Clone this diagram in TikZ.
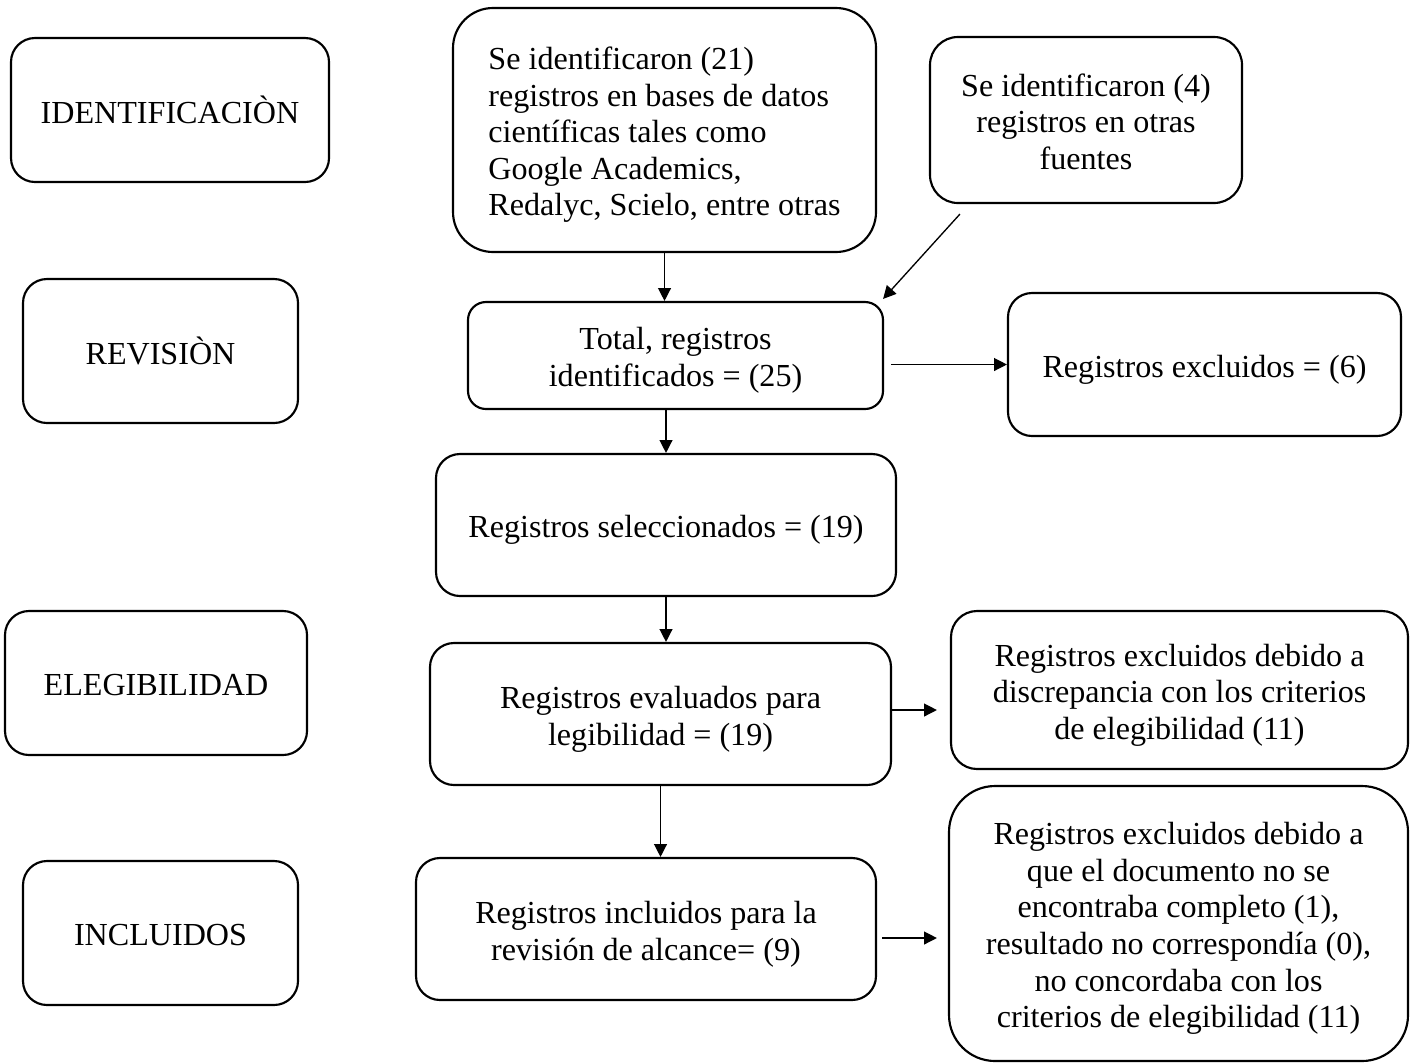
\documentclass[tikz,border=0pt]{standalone}
\usepackage{fontspec}
\setmainfont{Liberation Serif}
\usetikzlibrary{arrows.meta,calc}
\newdimen\pxu
\pxu=0.3738pt
% lower the text block inside its box a little, keeping the box dimensions
\newcommand\lowc[1]{\raisebox{-2pt}[\height][\depth]{\begin{tabular}{@{}c@{}}#1\end{tabular}}}
\newcommand\lowl[1]{\raisebox{-2pt}[\height][\depth]{\begin{tabular}{@{}l@{}}#1\end{tabular}}}
\begin{document}
\begin{tikzpicture}[x=0.3738pt,y=-0.3738pt,
  box/.style={draw,line width=0.8pt,align=center,inner sep=0pt,
    font=\fontsize{12pt}{13.7pt}\selectfont},
  wh/.style 2 args={minimum width=#1*\pxu,minimum height=#2*\pxu},
  rc/.style={rounded corners=#1*\pxu},
  arr/.style={line width=0.5pt,-{Triangle[length=4.8pt,width=4.8pt]}}]
\useasboundingbox (0,0) rectangle (1411,1063);
% stage labels
\node[box,wh={318}{144},rc=24] (ident) at (170,110) {\lowc{IDENTIFICACIÒN}};
\node[box,wh={275}{144},rc=24] (revis) at (160.5,351) {\lowc{REVISIÒN}};
\node[box,wh={302}{144},rc=24] (eleg) at (156,683) {\lowc{ELEGIBILIDAD}};
\node[box,wh={275}{144},rc=24] (inclL) at (160.5,933) {\lowc{INCLUIDOS}};
% flow boxes
\node[box,wh={423}{244},rc=40] (top) at (664.5,130)
  {\lowl{Se identificaron (21)\\registros en bases de datos\\científicas tales como\\Google Academics,\\Redalyc, Scielo, entre otras}};
\node[box,wh={312}{166},rc=28] (se4) at (1086,120)
  {\lowc{Se identificaron (4)\\registros en otras\\fuentes}};
\node[box,wh={415}{107},rc=18] (total) at (675.5,355.5)
  {\lowc{Total, registros\\identificados = (25)}};
\node[box,wh={393}{143},rc=24] (excl) at (1204.5,364.5)
  {\lowc{Registros excluidos = (6)}};
\node[box,wh={460}{142},rc=24] (sel) at (666,525)
  {\lowc{Registros seleccionados = (19)}};
\node[box,wh={461}{142},rc=24] (eval) at (660.5,714)
  {\lowc{Registros evaluados para\\legibilidad = (19)}};
\node[box,wh={460}{142},rc=24] (incl) at (646,929)
  {\lowc{Registros incluidos para la\\revisión de alcance= (9)}};
\node[box,wh={457}{158},rc=26] (disc) at (1179.5,690)
  {\lowc{Registros excluidos debido a\\discrepancia con los criterios\\de elegibilidad (11)}};
\node[box,wh={459}{275},rc=46] (bot) at (1178.5,923.5)
  {\lowc{Registros excluidos debido a\\que el documento no se\\encontraba completo (1),\\resultado no correspondía (0),\\no concordaba con los\\criterios de elegibilidad (11)}};
% connectors
\draw[arr] (top.south) -- (top.south |- total.north);
\draw[arr] ($(se4.south west)+(31,10)$) -- ($(total.north east)+(-1,-2)$);
\draw[arr] ($(total.east |- excl.west)+(7,0)$) -- (excl.west);
\draw[arr] (sel.north |- total.south) -- (sel.north);
\draw[arr] (sel.south) -- (sel.south |- eval.north);
\draw[arr] (eval.south) -- (eval.south |- incl.north);
\draw[arr] ($(eval.east)+(0,-4)$) -- ($(disc.west |- eval.east)+(-13,-4)$);
\draw[arr] ($(incl.east)+(5,9)$) -- ($(bot.west |- incl.east)+(-11,9)$);
\end{tikzpicture}
\end{document}
